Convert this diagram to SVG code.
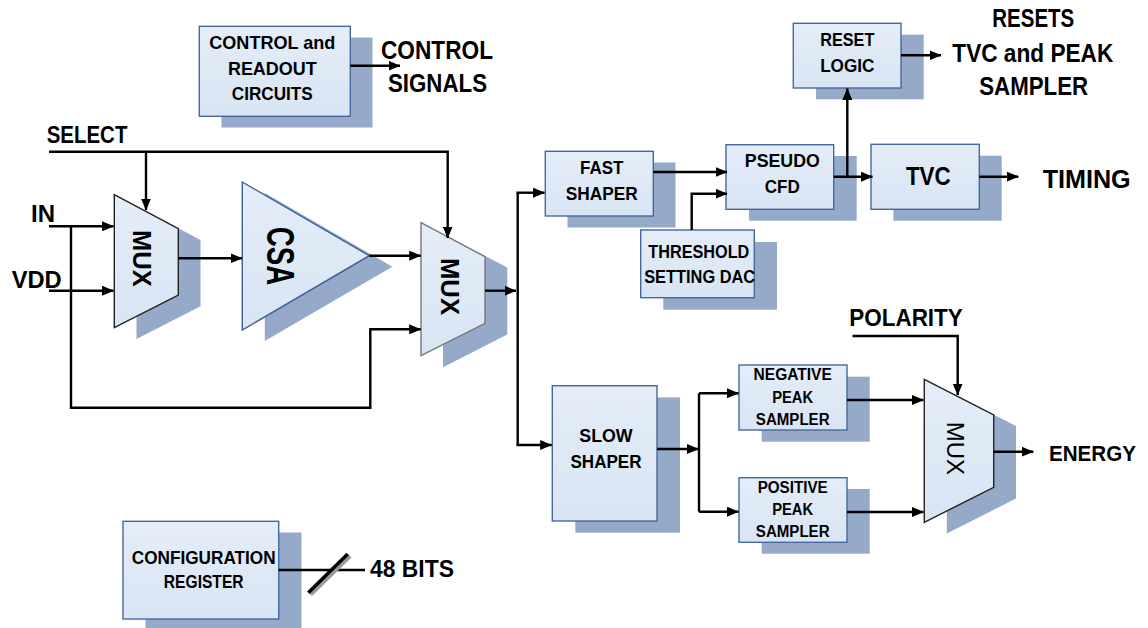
<svg xmlns="http://www.w3.org/2000/svg" width="1148" height="628" viewBox="0 0 1148 628">
<defs>
<linearGradient id="g" x1="0" y1="0" x2="0" y2="1">
<stop offset="0" stop-color="#e4edf8"/>
<stop offset="1" stop-color="#d9e5f4"/>
</linearGradient>
<marker id="ah" markerUnits="userSpaceOnUse" markerWidth="12" markerHeight="10" viewBox="0 0 12 10" refX="11.5" refY="5" orient="auto">
<path d="M0,0 L12,5 L0,10 z" fill="#000"/>
</marker>
</defs>
<style>
.box{fill:url(#g);stroke:#46689c;stroke-width:1.4}
.sh{fill:#95a9c9}
.t{font-family:"Liberation Sans",Arial,sans-serif;font-weight:bold;fill:#000}
.c{text-anchor:middle}
.w{stroke:#000;stroke-width:2.4;fill:none}
.a{marker-end:url(#ah)}
</style>
<rect width="1148" height="628" fill="#fff"/>

<g id="control">
<rect class="sh" x="221.5" y="37.5" width="151" height="90"/>
<rect class="box" x="199.3" y="26.3" width="151" height="90"/>
<g class="t c" font-size="19">
<text x="272.3" y="49.3" textLength="126" lengthAdjust="spacingAndGlyphs">CONTROL and</text>
<text x="272.3" y="75" textLength="88.7" lengthAdjust="spacingAndGlyphs">READOUT</text>
<text x="272.3" y="100" textLength="81" lengthAdjust="spacingAndGlyphs">CIRCUITS</text>
</g>
</g>

<g id="config">
<rect class="sh" x="145.5" y="532.5" width="156" height="98"/>
<rect class="box" x="123" y="521.3" width="155.7" height="97.7"/>
<g class="t c" font-size="19">
<text x="203.7" y="564.3" textLength="143.7" lengthAdjust="spacingAndGlyphs">CONFIGURATION</text>
<text x="203.7" y="588.3" textLength="79.7" lengthAdjust="spacingAndGlyphs">REGISTER</text>
</g>
</g>

<g id="mux1">
<polygon class="sh" points="136.5,206 200.5,240 200.5,306.3 136.5,339"/>
<polygon points="114.3,194.7 178.3,228.7 178.3,295 114.3,327.7" fill="url(#g)" stroke="#222" stroke-width="1.4"/>
<text class="t c" font-size="25.5" transform="translate(141.7,258.3) rotate(90)" y="9" textLength="56.7" lengthAdjust="spacingAndGlyphs">MUX</text>
</g>

<g id="csa">
<polygon class="sh" points="264.8,193 392.3,266.7 264.8,341"/>
<polygon points="242.3,182 369.3,255.7 242.3,330" fill="url(#g)" stroke="#3b5f96" stroke-width="1.4"/>
<text class="t c" font-size="39" transform="translate(281,256) rotate(90)" y="14" textLength="58.3" lengthAdjust="spacingAndGlyphs">CSA</text>
</g>

<g id="mux2">
<polygon class="sh" points="443,234 507.3,267.5 507.3,334.5 443,367.3"/>
<polygon points="421,222.7 485,256.7 485,323.3 421,355.7" fill="url(#g)" stroke="#777" stroke-width="1.4"/>
<text class="t c" font-size="26" transform="translate(450,286.5) rotate(90)" y="9.3" textLength="57" lengthAdjust="spacingAndGlyphs">MUX</text>
</g>

<g id="fast">
<rect class="sh" x="567.5" y="162.5" width="108" height="65"/>
<rect class="box" x="545.3" y="151.3" width="108" height="64.7"/>
<g class="t c" font-size="19">
<text x="601.7" y="174.3" textLength="43.3" lengthAdjust="spacingAndGlyphs">FAST</text>
<text x="601.7" y="200" textLength="72" lengthAdjust="spacingAndGlyphs">SHAPER</text>
</g>
</g>

<g id="pseudo">
<rect class="sh" x="749" y="156" width="107.7" height="64.7"/>
<rect class="box" x="726" y="144.7" width="107.7" height="64.6"/>
<g class="t c" font-size="19">
<text x="782.3" y="167.3" textLength="75" lengthAdjust="spacingAndGlyphs">PSEUDO</text>
<text x="782.3" y="193.3" textLength="35" lengthAdjust="spacingAndGlyphs">CFD</text>
</g>
</g>

<g id="threshold">
<rect class="sh" x="663.3" y="242" width="113.7" height="67.7"/>
<rect class="box" x="640.7" y="230" width="113.6" height="67.7"/>
<g class="t c" font-size="19">
<text x="698.8" y="258.3" textLength="101" lengthAdjust="spacingAndGlyphs">THRESHOLD</text>
<text x="699.7" y="282.7" textLength="111" lengthAdjust="spacingAndGlyphs">SETTING DAC</text>
</g>
</g>

<g id="reset">
<rect class="sh" x="816" y="34.6" width="107.7" height="64.7"/>
<rect class="box" x="793.3" y="23.3" width="107.7" height="64.7"/>
<g class="t c" font-size="19">
<text x="847.3" y="46" textLength="54" lengthAdjust="spacingAndGlyphs">RESET</text>
<text x="847.3" y="71.7" textLength="54.3" lengthAdjust="spacingAndGlyphs">LOGIC</text>
</g>
</g>

<g id="tvc">
<rect class="sh" x="893.4" y="155.7" width="108.3" height="65"/>
<rect class="box" x="871" y="144.3" width="108.3" height="65"/>
<text class="t c" font-size="25.5" x="928.3" y="185" textLength="44.7" lengthAdjust="spacingAndGlyphs">TVC</text>
</g>

<g id="slow">
<rect class="sh" x="575.3" y="397.4" width="104.7" height="135.3"/>
<rect class="box" x="552.3" y="385.7" width="104.7" height="135.3"/>
<g class="t c" font-size="19">
<text x="606" y="441.7" textLength="53.3" lengthAdjust="spacingAndGlyphs">SLOW</text>
<text x="606" y="467.7" textLength="71" lengthAdjust="spacingAndGlyphs">SHAPER</text>
</g>
</g>

<g id="negative">
<rect class="sh" x="761.7" y="376.7" width="108" height="65"/>
<rect class="box" x="739" y="365" width="108" height="65"/>
<g class="t c" font-size="16">
<text x="792.7" y="380" textLength="78.3" lengthAdjust="spacingAndGlyphs">NEGATIVE</text>
<text x="792.7" y="402.7" textLength="41" lengthAdjust="spacingAndGlyphs">PEAK</text>
<text x="792.7" y="425" textLength="73.7" lengthAdjust="spacingAndGlyphs">SAMPLER</text>
</g>
</g>

<g id="positive">
<rect class="sh" x="761.7" y="489" width="108" height="64.7"/>
<rect class="box" x="739" y="477.7" width="108" height="64.6"/>
<g class="t c" font-size="16">
<text x="792.7" y="492.7" textLength="70" lengthAdjust="spacingAndGlyphs">POSITIVE</text>
<text x="792.7" y="515" textLength="41" lengthAdjust="spacingAndGlyphs">PEAK</text>
<text x="792.7" y="537.3" textLength="73.7" lengthAdjust="spacingAndGlyphs">SAMPLER</text>
</g>
</g>

<g id="mux3">
<polygon class="sh" points="946.8,390.5 1016,426 1016,498.5 946.8,533.5"/>
<polygon points="924.3,379.3 993.7,415 993.7,487.3 924.3,522.3" fill="url(#g)" stroke="#222" stroke-width="1.4"/>
<text font-family="Liberation Sans, Arial, sans-serif" font-size="24.5" text-anchor="middle" transform="translate(956,448.3) rotate(90)" y="8.8" textLength="53" lengthAdjust="spacingAndGlyphs">MUX</text>
</g>

<g id="labels" class="t">
<text font-size="25" class="c" x="437" y="59" textLength="112" lengthAdjust="spacingAndGlyphs">CONTROL</text>
<text font-size="25" class="c" x="437.5" y="92" textLength="99" lengthAdjust="spacingAndGlyphs">SIGNALS</text>
<text font-size="23" x="46.7" y="142.7" textLength="80.7" lengthAdjust="spacingAndGlyphs">SELECT</text>
<text font-size="24.5" x="31" y="221.7" textLength="24" lengthAdjust="spacingAndGlyphs">IN</text>
<text font-size="24.5" x="11.7" y="287.7" textLength="50" lengthAdjust="spacingAndGlyphs">VDD</text>
<text font-size="25" class="c" x="1033.3" y="27.3" textLength="82" lengthAdjust="spacingAndGlyphs">RESETS</text>
<text font-size="25" class="c" x="1032.8" y="61.7" textLength="161" lengthAdjust="spacingAndGlyphs">TVC and PEAK</text>
<text font-size="25" class="c" x="1033.7" y="95" textLength="109" lengthAdjust="spacingAndGlyphs">SAMPLER</text>
<text font-size="25" x="1042.7" y="188.3" textLength="88" lengthAdjust="spacingAndGlyphs">TIMING</text>
<text font-size="23" x="849.3" y="326" textLength="113.5" lengthAdjust="spacingAndGlyphs">POLARITY</text>
<text font-size="22" x="1049" y="460.7" textLength="87" lengthAdjust="spacingAndGlyphs">ENERGY</text>
<text font-size="24" x="370" y="576.7" textLength="84" lengthAdjust="spacingAndGlyphs">48 BITS</text>
</g>

<g id="connectors">
<path class="w a" d="M350.3,65.7 H400"/>
<path class="w a" d="M49,151.7 H447.7 V238"/>
<path class="w a" d="M146,151.7 V210"/>
<path class="w a" d="M49,226.3 H113.5"/>
<path class="w a" d="M49,290.7 H113.5"/>
<path class="w a" d="M71,226.3 V407.7 H370.3 V329.3 H420.7"/>
<path class="w a" d="M178.3,258.3 H242"/>
<path class="w a" d="M369.3,255.7 H420.7"/>
<path class="w a" d="M485,290.7 H516"/>
<path class="w" d="M517.7,192.7 V445"/>
<path class="w a" d="M516.5,192.7 H544.5"/>
<path class="w a" d="M516.5,445 H551.7"/>
<path class="w a" d="M653.3,172 H727"/>
<path class="w a" d="M691.7,230 V193.7 H727"/>
<path class="w a" d="M833.7,176.7 H872.5"/>
<path class="w a" d="M847.3,176.7 V88.5"/>
<path class="w a" d="M901,55.3 H941"/>
<path class="w a" d="M979.3,176.7 H1018.3"/>
<path class="w a" d="M657,449 H698.5"/>
<path class="w" d="M699,393.3 V511.7"/>
<path class="w a" d="M699,393.3 H738.5"/>
<path class="w a" d="M699,511.7 H738.5"/>
<path class="w a" d="M847,400 H923.5"/>
<path class="w a" d="M847,512 H923.5"/>
<path class="w a" d="M852.5,336 H957.7 V395"/>
<path class="w a" d="M993.7,451.7 H1033.3"/>
<path class="w" d="M278.7,570 H365"/>
<path d="M310.5,594.5 L349.9,555.8" stroke="#9a9a9a" stroke-width="4.5" fill="none"/>
<path d="M308.3,592.7 L347.7,554" stroke="#000" stroke-width="3.5" fill="none"/>
</g>
</svg>
